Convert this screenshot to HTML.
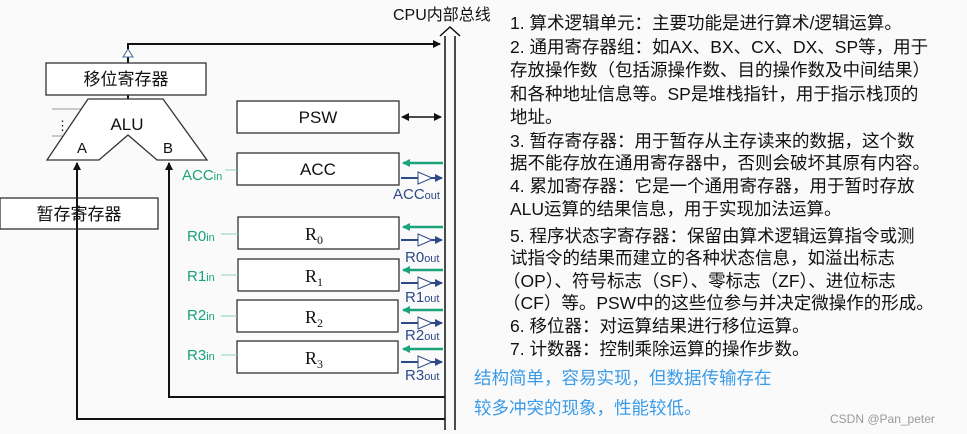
<!DOCTYPE html>
<html><head><meta charset="utf-8"><style>
body{margin:0;width:967px;height:434px;overflow:hidden;background:#fafafa;font-family:"Liberation Sans","Noto Sans CJK SC",sans-serif}
.t{position:absolute;left:510px;font-size:17.5px;color:#111;white-space:nowrap;line-height:23px}
</style></head><body>
<svg width="967" height="434" style="position:absolute;left:0;top:0" font-family="Liberation Sans, Noto Sans CJK SC, sans-serif">
<defs>
<marker id="ab" markerWidth="8" markerHeight="8" refX="7" refY="4" orient="auto-start-reverse" markerUnits="userSpaceOnUse"><path d="M0,0 L8,4 L0,8 z" fill="#111"/></marker>
<marker id="ag" markerWidth="8" markerHeight="8" refX="7" refY="4" orient="auto" markerUnits="userSpaceOnUse"><path d="M0,0 L8,4 L0,8 z" fill="#1aa37a"/></marker>
<marker id="an" markerWidth="8" markerHeight="8" refX="7" refY="4" orient="auto" markerUnits="userSpaceOnUse"><path d="M0,0 L8,4 L0,8 z" fill="#2d4a86"/></marker>
</defs>
<g stroke="#111" fill="none" stroke-width="2">
<line x1="445" y1="36" x2="445" y2="430" stroke-width="1.5"/>
<line x1="455" y1="36" x2="455" y2="430" stroke-width="1.5"/>
<path d="M440,36 L450,27 L460,36" stroke-width="1.5" fill="#fff"/>
<line x1="128" y1="63" x2="128" y2="57"/>
<path d="M123,57 L128,49 L133,57 z" stroke="#4a6aa0" stroke-width="1" fill="#fff"/>
<polyline points="128,49 128,44 440,44" marker-end="url(#ab)"/>
<line x1="128" y1="95" x2="128" y2="99"/>
<polyline points="445,419 77,419 77,163" marker-end="url(#ab)"/>
<polyline points="445,397 169,397 169,163" marker-end="url(#ab)"/>
<line x1="402" y1="117" x2="441" y2="117" stroke-width="1.5" marker-end="url(#ab)" marker-start="url(#ab)"/>
</g>
<g stroke="#999" stroke-width="1"><line x1="52" y1="109" x2="84" y2="109"/><line x1="52" y1="136" x2="70" y2="136"/></g>
<text x="56" y="130" font-size="13" fill="#111">⋮</text>
<g stroke="#333" fill="#fff" stroke-width="1.3">
<rect x="46" y="63" width="160" height="32"/>
<path d="M88,99 L163,99 L207,160 L157,160 L128,135 L99,160 L47,160 z"/>
<rect x="0" y="198" width="158" height="31"/>
<rect x="237" y="101" width="162" height="32"/>
<rect x="237" y="153" width="162" height="32"/>
<rect x="238" y="217" width="161" height="32"/>
<rect x="238" y="259" width="161" height="32"/>
<rect x="237" y="300" width="161" height="32"/>
<rect x="237" y="341" width="161" height="32"/>
</g>
<line x1="77" y1="198" x2="77" y2="229" stroke="#111" stroke-width="2"/>
<g font-size="17" fill="#111" text-anchor="middle">
<text x="126" y="85">移位寄存器</text>
<text x="127" y="130">ALU</text>
<text x="82" y="153" font-size="15">A</text>
<text x="168" y="153" font-size="15">B</text>
<text x="79" y="220">暂存寄存器</text>
<text x="318" y="123">PSW</text>
<text x="318" y="175">ACC</text>
</g>
<g font-size="18" fill="#111" text-anchor="middle" font-family="Liberation Serif, serif">
<text x="314" y="240">R<tspan font-size="12" dy="4">0</tspan></text>
<text x="314" y="282">R<tspan font-size="12" dy="4">1</tspan></text>
<text x="314" y="323">R<tspan font-size="12" dy="4">2</tspan></text>
<text x="314" y="364">R<tspan font-size="12" dy="4">3</tspan></text>
</g>
<g font-size="15" fill="#1aa37a">
<text x="182" y="180">ACC<tspan font-size="11">in</tspan></text>
<text x="187" y="241">R0<tspan font-size="11">in</tspan></text>
<text x="187" y="281">R1<tspan font-size="11">in</tspan></text>
<text x="187" y="320">R2<tspan font-size="11">in</tspan></text>
<text x="187" y="360">R3<tspan font-size="11">in</tspan></text>
</g>
<g stroke="#8ad3bb" stroke-width="1">
<line x1="225" y1="170" x2="237" y2="170"/><line x1="221" y1="234" x2="238" y2="234"/><line x1="221" y1="275" x2="238" y2="275"/><line x1="221" y1="316" x2="237" y2="316"/><line x1="221" y1="355" x2="237" y2="355"/>
</g>
<g stroke="#1aa37a" stroke-width="2.5">
<line x1="443" y1="163" x2="403" y2="163" marker-end="url(#ag)"/>
<line x1="443" y1="227" x2="403" y2="227" marker-end="url(#ag)"/>
<line x1="443" y1="270" x2="403" y2="270" marker-end="url(#ag)"/>
<line x1="443" y1="310" x2="403" y2="310" marker-end="url(#ag)"/>
<line x1="443" y1="349" x2="403" y2="349" marker-end="url(#ag)"/>
</g>
<g stroke="#2d4a86" stroke-width="2" fill="#fff">
<g transform="translate(0,178)"><line x1="401" y1="0" x2="442" y2="0" marker-end="url(#an)"/><path d="M418,-6 L432,0 L418,6 z" stroke-width="1"/></g>
<g transform="translate(0,240)"><line x1="401" y1="0" x2="442" y2="0" marker-end="url(#an)"/><path d="M418,-6 L432,0 L418,6 z" stroke-width="1"/></g>
<g transform="translate(0,283)"><line x1="401" y1="0" x2="442" y2="0" marker-end="url(#an)"/><path d="M418,-6 L432,0 L418,6 z" stroke-width="1"/></g>
<g transform="translate(0,323)"><line x1="401" y1="0" x2="442" y2="0" marker-end="url(#an)"/><path d="M418,-6 L432,0 L418,6 z" stroke-width="1"/></g>
<g transform="translate(0,362)"><line x1="401" y1="0" x2="442" y2="0" marker-end="url(#an)"/><path d="M418,-6 L432,0 L418,6 z" stroke-width="1"/></g>
</g>
<g font-size="15" fill="#2d4a86">
<text x="393" y="199">ACC<tspan font-size="11">out</tspan></text>
<text x="405" y="262">R0<tspan font-size="11">out</tspan></text>
<text x="405" y="302">R1<tspan font-size="11">out</tspan></text>
<text x="405" y="340">R2<tspan font-size="11">out</tspan></text>
<text x="405" y="380">R3<tspan font-size="11">out</tspan></text>
</g>
<text x="393" y="20" font-size="16" fill="#111">CPU内部总线</text>
<text x="830" y="423" font-size="12" fill="#999">CSDN @Pan_peter</text>
</svg>
<div class="t" style="top:12px">1. 算术逻辑单元：主要功能是进行算术/逻辑运算。</div>
<div class="t" style="top:36px">2. 通用寄存器组：如AX、BX、CX、DX、SP等，用于</div>
<div class="t" style="top:59px">存放操作数（包括源操作数、目的操作数及中间结果）</div>
<div class="t" style="top:83px">和各种地址信息等。SP是堆栈指针，用于指示栈顶的</div>
<div class="t" style="top:106px">地址。</div>
<div class="t" style="top:130px">3. 暂存寄存器：用于暂存从主存读来的数据，这个数</div>
<div class="t" style="top:152px">据不能存放在通用寄存器中，否则会破坏其原有内容。</div>
<div class="t" style="top:175px">4. 累加寄存器：它是一个通用寄存器，用于暂时存放</div>
<div class="t" style="top:198px">ALU运算的结果信息，用于实现加法运算。</div>
<div class="t" style="top:225px">5. 程序状态字寄存器：保留由算术逻辑运算指令或测</div>
<div class="t" style="top:247px">试指令的结果而建立的各种状态信息，如溢出标志</div>
<div class="t" style="top:270px;left:503px">（OP）、符号标志（SF）、零标志（ZF）、进位标志</div>
<div class="t" style="top:292px;left:503px">（CF）等。PSW中的这些位参与并决定微操作的形成。</div>
<div class="t" style="top:315px">6. 移位器：对运算结果进行移位运算。</div>
<div class="t" style="top:338px">7. 计数器：控制乘除运算的操作步数。</div>
<div class="t" style="top:367px;left:474px;color:#3a9be8">结构简单，容易实现，但数据传输存在</div>
<div class="t" style="top:397px;left:474px;color:#3a9be8">较多冲突的现象，性能较低。</div>
</body></html>
